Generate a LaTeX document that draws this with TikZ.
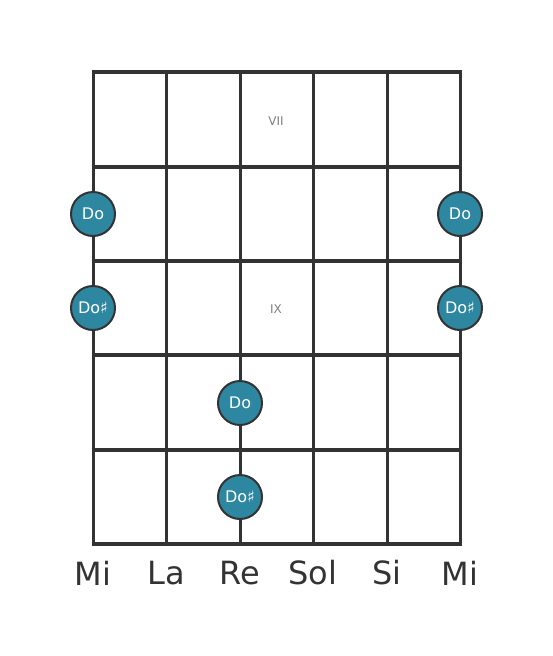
\documentclass[tikz,border=0pt]{standalone}
\usepackage{fontspec}
\setmainfont{DejaVu Sans}
\usepackage{xcolor}
\definecolor{mynote}{rgb}{0.18,0.53,0.63}
\definecolor{myline}{gray}{0.2}
\definecolor{mygray}{gray}{0.5}
\tikzset{
  note/.style={circle, draw=myline, line width=2pt, fill=mynote, minimum size=44pt,
    inner sep=0pt, text=white, font=\fontsize{16}{16}\selectfont},
  fretnum/.style={text=mygray, font=\fontsize{12}{12}\selectfont},
  strname/.style={text=myline, font=\fontsize{32}{32}\selectfont}
}

\begin{document}
\begin{tikzpicture}[x=1pt,y=-1pt]
\useasboundingbox (0,0) rectangle (553,656);
% strings
\foreach \x in {93,166,240,313,387,460}
  \draw [myline, line width=3pt] (\x,72) -- (\x,544);
% frets
\foreach \y in {72,167,261,355,450,544}
  \draw [myline, line width=4.5pt] (91.5,\y) -- (461.5,\y);
% fret numbers
\node[fretnum] (f7) at (276,121) {VII};
\node[fretnum] (f9) at (276,309) {IX};
% notes
\node[note] (n1) at (93,214) {Do};
\node[note] (n2) at (460,214) {Do};
\node[note] (n3) at (93,308) {Do♯};
\node[note] (n4) at (460,308) {Do♯};
\node[note] (n5) at (240,403) {Do};
\node[note] (n6) at (240,497) {Do♯};
% string names
\node[strname] (l1) at (93,573) {Mi};
\node[strname] (l2) at (166,573) {La};
\node[strname] (l3) at (240,573) {Re};
\node[strname] (l4) at (313,573) {Sol};
\node[strname] (l5) at (387,573) {Si};
\node[strname] (l6) at (460,573) {Mi};
\end{tikzpicture}
\end{document}
